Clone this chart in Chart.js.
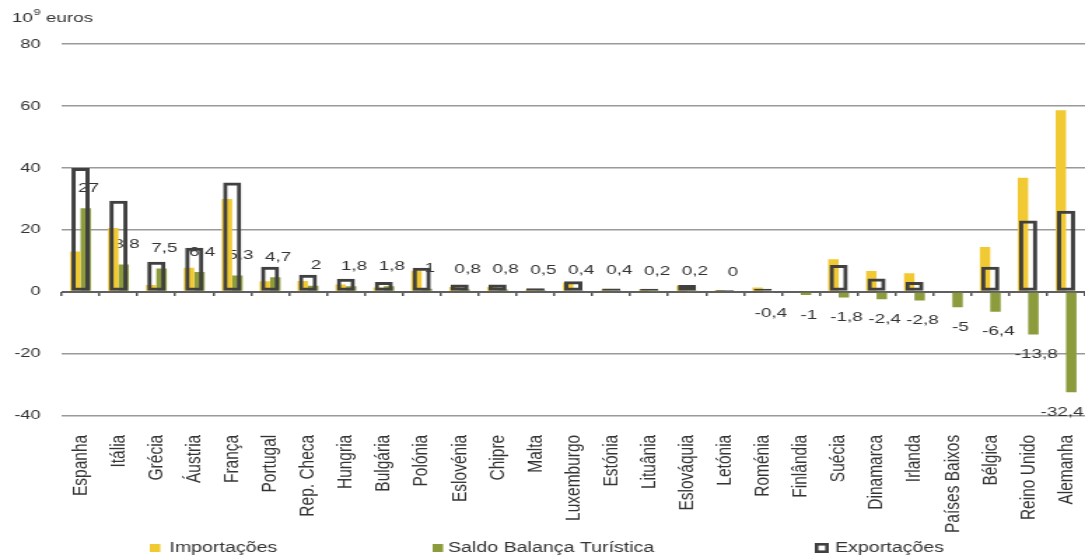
<!DOCTYPE html>
<html lang="pt">
<head>
<meta charset="utf-8">
<title>Balança turística</title>
<script src="https://cdn.jsdelivr.net/npm/chart.js@4/dist/chart.umd.min.js"></script>
<style>
  html, body { margin: 0; padding: 0; background: #ffffff; overflow: hidden; }
  #wrap { width: 1085px; height: 557px; overflow: hidden; }
  /* the chart is laid out on a narrower canvas and widened horizontally */
  #chart { display: block; transform-origin: 0 0; transform: scaleX(1.4); }
</style>
</head>
<body>
<div id="wrap"><canvas id="chart" width="775" height="557"></canvas></div>
<script>
// Países
const categories = [
  'Espanha', 'Itália', 'Grécia', 'Áustria', 'França', 'Portugal', 'Rep. Checa',
  'Hungria', 'Bulgária', 'Polónia', 'Eslovénia', 'Chipre', 'Malta', 'Luxemburgo',
  'Estónia', 'Lituânia', 'Eslováquia', 'Letónia', 'Roménia', 'Finlândia', 'Suécia',
  'Dinamarca', 'Irlanda', 'Países Baixos', 'Bélgica', 'Reino Unido', 'Alemanha'
];

// 10^9 euros
const importacoes = [
  13.0, 20.6, 2.2, 7.8, 30.0, 3.4, 3.5, 2.4, 1.4, 6.8, 1.6, 1.6, 0.7, 3.0,
  0.7, 0.8, 2.0, 0.6, 1.4, null, 10.5, 6.7, 6.0, null, 14.5, 36.8, 58.6
];
const saldo = [
  27, 8.8, 7.5, 6.4, 5.3, 4.7, 2, 1.8, 1.8, 1, 0.8, 0.8, 0.5, 0.4,
  0.4, 0.2, 0.2, 0, -0.4, -1, -1.8, -2.4, -2.8, -5, -6.4, -13.8, -32.4
];
const exportacoes = [
  40.0, 29.4, 9.7, 14.2, 35.3, 8.1, 5.5, 4.2, 3.2, 7.8, 2.4, 2.4, 1.2, 3.4,
  1.1, 1.0, 2.2, 0.6, 1.0, null, 8.7, 4.3, 3.2, null, 8.1, 23.0, 26.2
];

const seriesNames = ['Importações', 'Saldo Balança Turística', 'Exportações'];
const yTicks = [-40, -20, 0, 20, 40, 60, 80];

const COLOR_IMP = '#F1CA33';
const COLOR_SALDO = '#8C9B3C';
const COLOR_EXP = '#404040';
const TEXT = '#333333';
const FONT = '"Liberation Sans", Arial, sans-serif';

const fmt = v => String(v).replace('.', ',');

// value labels of the balance series, drawn before the export outlines
const saldoLabels = {
  id: 'saldoLabels',
  afterDatasetDraw(chart, args) {
    if (args.index !== 1) return;
    const ctx = chart.ctx;
    ctx.save();
    ctx.font = '13.5px ' + FONT;
    ctx.fillStyle = TEXT;
    ctx.textAlign = 'center';
    ctx.textBaseline = 'middle';
    args.meta.data.forEach((bar, i) => {
      const v = saldo[i];
      if (v === null || v === undefined) return;
      const text = fmt(v);
      const half = ctx.measureText(text).width / 2;
      const x = Math.min(bar.x + 2, chart.width - 1 - half);
      const y = v >= 0 ? bar.y - 20 : bar.y + 20;
      ctx.fillText(text, x, y);
    });
    ctx.restore();
  }
};

// unit caption and legend row
const decorations = {
  id: 'decorations',
  afterDraw(chart) {
    const ctx = chart.ctx;
    ctx.save();
    ctx.fillStyle = TEXT;
    ctx.textBaseline = 'middle';
    ctx.textAlign = 'left';

    // 10⁹ euros
    let x = 8.5;
    ctx.font = '13.5px ' + FONT;
    ctx.fillText('10', x, 18);
    x += ctx.measureText('10').width;
    ctx.font = '9px ' + FONT;
    ctx.fillText('9', x + 0.5, 13);
    x += ctx.measureText('9').width + 0.5;
    ctx.font = '13.5px ' + FONT;
    ctx.fillText(' euros', x, 18);

    // legend
    const ly = 548;
    const items = [
      { box: 107, text: 121, kind: 'fill', color: COLOR_IMP },
      { box: 309, text: 320, kind: 'fill', color: COLOR_SALDO },
      { box: 582, text: 596.5, kind: 'outline', color: COLOR_EXP }
    ];
    ctx.font = '14px ' + FONT;
    items.forEach((it, i) => {
      if (it.kind === 'fill') {
        ctx.fillStyle = it.color;
        ctx.fillRect(it.box, ly - 4, 7.5, 8);
      } else {
        ctx.fillStyle = '#ffffff';
        ctx.fillRect(it.box, ly - 5, 10, 10);
        ctx.strokeStyle = it.color;
        ctx.lineWidth = 2.6;
        ctx.strokeRect(it.box + 1.3, ly - 3.7, 7.4, 7.4);
      }
      ctx.fillStyle = TEXT;
      ctx.fillText(seriesNames[i], it.text, ly);
    });
    ctx.restore();
  }
};

const noSidePadding = scale => {
  scale.paddingLeft = 0;
  scale.paddingRight = 0;
};

new Chart(document.getElementById('chart'), {
  type: 'bar',
  data: {
    labels: categories,
    datasets: [
      {
        label: seriesNames[0],
        data: importacoes,
        backgroundColor: COLOR_IMP,
        categoryPercentage: 0.55,
        barPercentage: 1.0,
        order: 1
      },
      {
        label: seriesNames[1],
        data: saldo,
        backgroundColor: COLOR_SALDO,
        categoryPercentage: 0.55,
        barPercentage: 1.0,
        order: 1
      },
      {
        // outline bar centred on the category, over the two filled bars
        label: seriesNames[2],
        data: exportacoes,
        grouped: false,
        backgroundColor: 'rgba(0,0,0,0)',
        borderColor: COLOR_EXP,
        borderWidth: 3,
        borderSkipped: false,
        categoryPercentage: 0.48,
        barPercentage: 1.0,
        order: 0
      }
    ]
  },
  options: {
    responsive: false,
    animation: false,
    devicePixelRatio: 1,
    layout: { padding: { left: 10, right: 0, top: 44, bottom: 5 } },
    plugins: {
      legend: { display: false },
      tooltip: { enabled: false }
    },
    scales: {
      x: {
        type: 'category',
        position: 'bottom',
        offset: true,
        grid: { display: false, drawTicks: false },
        border: { display: false },
        ticks: {
          autoSkip: false,
          minRotation: 90,
          maxRotation: 90,
          padding: 19,
          color: TEXT,
          font: { family: FONT, size: 15.5 }
        },
        afterFit: noSidePadding
      },
      // tick marks along the zero line
      x2: {
        type: 'category',
        position: { y: 0 },
        offset: true,
        border: { display: false },
        ticks: { display: false },
        grid: {
          offset: true,
          drawOnChartArea: false,
          drawTicks: true,
          tickLength: 4,
          color: '#555555',
          lineWidth: 1.5
        },
        afterFit: noSidePadding
      },
      y: {
        min: -40,
        max: 80,
        afterBuildTicks(scale) {
          scale.ticks = yTicks.map(v => ({ value: v }));
        },
        afterFit(scale) {
          scale.width = 34;
        },
        border: { display: false },
        grid: {
          drawTicks: false,
          color: ctx => (ctx.tick && ctx.tick.value === 0 ? '#5f5f5f' : '#9a9a9a'),
          lineWidth: ctx => (ctx.tick && ctx.tick.value === 0 ? 2 : 1.6)
        },
        ticks: {
          padding: 15,
          color: TEXT,
          font: { family: FONT, size: 13 }
        }
      }
    }
  },
  plugins: [saldoLabels, decorations]
});
</script>
</body>
</html>
